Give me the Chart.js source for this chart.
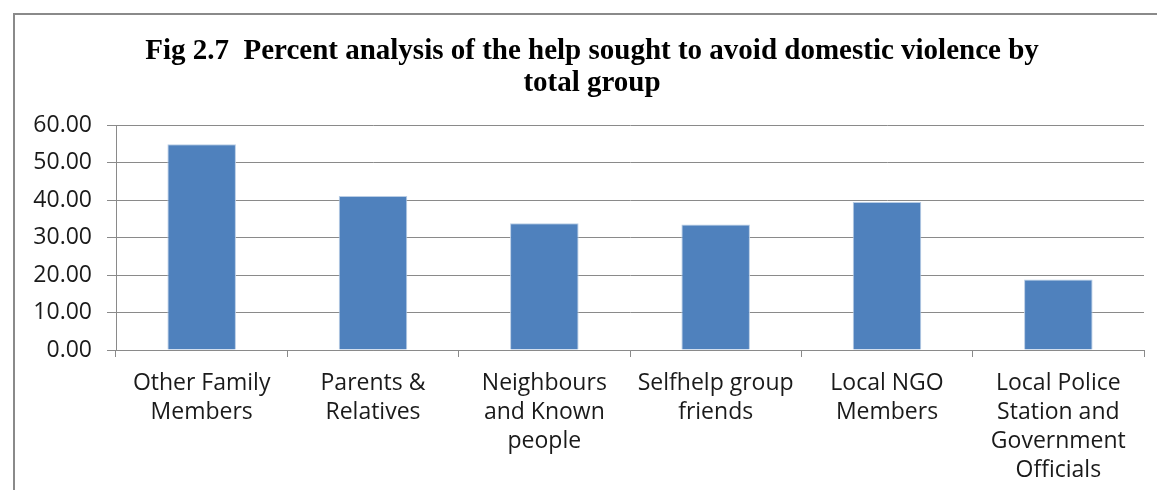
<!DOCTYPE html>
<html><head><meta charset="utf-8">
<script src="https://cdn.jsdelivr.net/npm/chart.js@4.4.0/dist/chart.umd.min.js"></script>
<style>html,body{margin:0;padding:0;background:#fff;overflow:hidden}#wrap{position:absolute;left:0;top:0;width:1157px;height:490px}</style>
</head><body><div id="wrap"><canvas id="c" width="1157" height="490"></canvas></div>
<script>
const categories = [
  ["Other Family", "Members"],
  ["Parents &", "Relatives"],
  ["Neighbours", "and Known", "people"],
  ["Selfhelp group", "friends"],
  ["Local NGO", "Members"],
  ["Local Police", "Station and", "Government", "Officials"]
];
const values = [54.9, 41.1, 33.8, 33.5, 39.5, 18.8];
const yTicks = [0, 10, 20, 30, 40, 50, 60];
const titleLines = ["Fig 2.7  Percent analysis of the help sought to avoid domestic violence by", "total group"];

const frame = {
  id: 'frame',
  beforeDraw(chart) {
    const ctx = chart.ctx;
    ctx.save();
    ctx.strokeStyle = '#8a8a8a';
    ctx.lineWidth = 2;
    ctx.beginPath();
    ctx.moveTo(14, 490);
    ctx.lineTo(14, 14);
    ctx.lineTo(1157, 14);
    ctx.stroke();
    ctx.restore();
  },
  afterDraw(chart) {
    const ctx = chart.ctx;
    ctx.save();
    ctx.fillStyle = '#000';
    ctx.font = 'bold 29px "Liberation Serif"';
    ctx.textAlign = 'center';
    ctx.textBaseline = 'middle';
    titleLines.forEach((t, i) => ctx.fillText(t, 592, 52 + i * 32));
    ctx.restore();
  }
};

new Chart(document.getElementById('c'), {
  type: 'bar',
  data: {
    labels: categories,
    datasets: [{
      data: values,
      backgroundColor: '#4F81BD',
      borderColor: '#B9CDE5',
      borderWidth: 1,
      categoryPercentage: 1,
      barPercentage: 0.4
    }]
  },
  options: {
    responsive: false,
    animation: false,
    layout: { padding: { left: 20, right: 13, top: 125, bottom: 0 } },
    plugins: {
      legend: { display: false },
      tooltip: { enabled: false },
      title: { display: false }
    },
    scales: {
      x: {
        afterFit(s) { s.height = 140; },
        grid: { display: true, drawOnChartArea: false, drawTicks: true, tickLength: 7, color: '#8a8a8a', offset: true },
        border: { color: '#8a8a8a', width: 1 },
        ticks: { color: '#1a1a1a', font: { family: 'Open Sans', size: 23, lineHeight: 1.26 }, maxRotation: 0, autoSkip: false, padding: 12 }
      },
      y: {
        min: 0, max: 60,
        afterFit(s) { s.width = 96; },
        afterBuildTicks(s) { s.ticks = yTicks.map(v => ({ value: v })); },
        grid: { color: '#8a8a8a', tickLength: 9, lineWidth: 1 },
        border: { color: '#8a8a8a', width: 1 },
        ticks: { color: '#1a1a1a', font: { family: 'Open Sans', size: 23 }, padding: 15, callback: v => Number(v).toFixed(2) }
      }
    }
  },
  plugins: [frame]
});
</script></body></html>
